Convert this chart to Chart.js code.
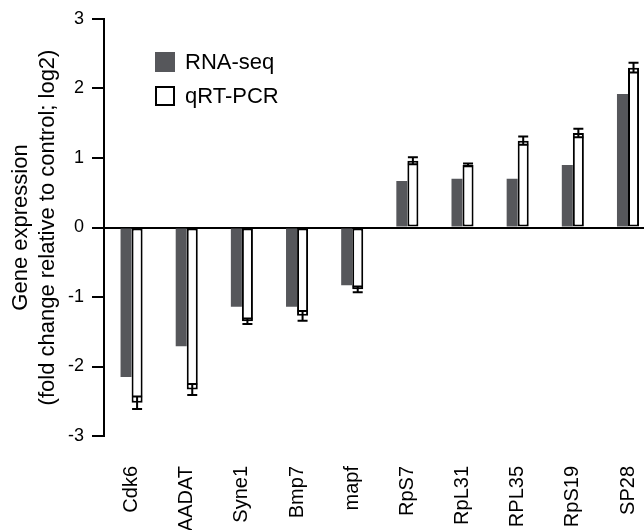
<!DOCTYPE html>
<html>
<head>
<meta charset="utf-8">
<script src="https://cdn.jsdelivr.net/npm/chart.js@4/dist/chart.umd.min.js"></script>
<style>
  html, body { margin: 0; padding: 0; background: #fff; overflow: hidden; }
  #wrap { width: 644px; height: 530px; overflow: hidden; position: relative; }
  #c { position: absolute; left: 0; top: 0; }
</style>
</head>
<body>
<div id="wrap"><canvas id="c" width="674" height="530"></canvas></div>
<script>
const categories = ["Cdk6", "AADAT", "Syne1", "Bmp7", "mapf", "RpS7", "RpL31", "RPL35", "RpS19", "SP28"];
const rnaSeq = [-2.15, -1.71, -1.14, -1.14, -0.83, 0.67, 0.70, 0.70, 0.90, 1.92];
const qrtPcr = [-2.52, -2.33, -1.35, -1.27, -0.89, 0.96, 0.90, 1.25, 1.36, 2.30];
const qrtPcrErr = [0.09, 0.08, 0.04, 0.07, 0.04, 0.05, 0.02, 0.06, 0.06, 0.07];
const yTicks = [-3, -2, -1, 0, 1, 2, 3];
const seriesNames = ["RNA-seq", "qRT-PCR"];

const FONT = "'Liberation Sans', Arial, sans-serif";

const errorBarPlugin = {
  id: 'errorBars',
  afterDatasetsDraw(chart) {
    const ctx = chart.ctx;
    const meta = chart.getDatasetMeta(1);
    const y = chart.scales.y;
    ctx.save();
    ctx.strokeStyle = '#000';
    ctx.lineWidth = 2;
    meta.data.forEach((bar, i) => {
      const v = qrtPcr[i], e = qrtPcrErr[i];
      const x = bar.x;
      const yHi = y.getPixelForValue(v + e);
      const yLo = y.getPixelForValue(v - e);
      const hw = 5;
      ctx.beginPath();
      ctx.moveTo(x, yHi); ctx.lineTo(x, yLo);
      ctx.moveTo(x - hw, yHi); ctx.lineTo(x + hw, yHi);
      ctx.moveTo(x - hw, yLo); ctx.lineTo(x + hw, yLo);
      ctx.stroke();
    });
    ctx.restore();
  }
};

const legendPlugin = {
  id: 'customLegend',
  afterDraw(chart) {
    const ctx = chart.ctx;
    const ds = chart.data.datasets;
    ctx.save();
    ctx.font = "22px " + FONT;
    ctx.textBaseline = 'middle';
    ctx.textAlign = 'left';
    const x0 = 155, rows = [52, 86], size = 20;
    ds.forEach((d, i) => {
      const top = rows[i];
      if (i === 0) {
        ctx.fillStyle = d.backgroundColor;
        ctx.fillRect(x0, top, size, size);
      } else {
        ctx.fillStyle = '#fff';
        ctx.fillRect(x0, top, size, size);
        ctx.strokeStyle = '#000';
        ctx.lineWidth = 2;
        ctx.strokeRect(x0 + 1, top + 1, size - 2, size - 2);
      }
      ctx.fillStyle = '#000';
      ctx.fillText(d.label, x0 + 30, top + size / 2 + 1);
    });
    ctx.restore();
  }
};

new Chart(document.getElementById('c'), {
  type: 'bar',
  data: {
    labels: categories,
    datasets: [
      {
        label: seriesNames[0],
        data: rnaSeq,
        backgroundColor: '#56575b',
        borderWidth: 0,
        categoryPercentage: 0.4,
        barPercentage: 1.0
      },
      {
        label: seriesNames[1],
        data: qrtPcr,
        backgroundColor: '#ffffff',
        borderColor: '#000000',
        borderWidth: 2,
        borderSkipped: false,
        categoryPercentage: 0.4,
        barPercentage: 1.0
      }
    ]
  },
  options: {
    responsive: false,
    animation: false,
    layout: { padding: { top: 19, right: 0, left: 0, bottom: 0 } },
    plugins: {
      legend: { display: false },
      tooltip: { enabled: false }
    },
    scales: {
      x: {
        grid: { display: false },
        border: { display: false },
        ticks: {
          color: '#000',
          font: { family: FONT, size: 20 },
          minRotation: 90,
          maxRotation: 90,
          padding: 22,
          autoSkip: false
        },
        afterFit(scale) { scale.height = 94; }
      },
      y: {
        min: -3,
        max: 3,
        afterBuildTicks(scale) { scale.ticks = yTicks.map(v => ({ value: v })); },
        border: { display: true, color: '#000', width: 2 },
        grid: {
          color: (c) => (c.tick && c.tick.value === 0 ? '#000' : 'rgba(0,0,0,0)'),
          lineWidth: 2,
          tickColor: '#000',
          tickWidth: 2,
          tickLength: 12,
          drawOnChartArea: true
        },
        ticks: {
          color: '#000',
          font: { family: FONT, size: 18 },
          padding: 8
        },
        title: {
          display: true,
          text: ['Gene expression', '(fold change relative to control; log2)'],
          color: '#000',
          font: { family: FONT, size: 22, lineHeight: 1.23 },
          padding: { top: 7, bottom: 0 }
        },
        afterFit(scale) { scale.width = 104; }
      }
    }
  },
  plugins: [errorBarPlugin, legendPlugin]
});
</script>
</body>
</html>
